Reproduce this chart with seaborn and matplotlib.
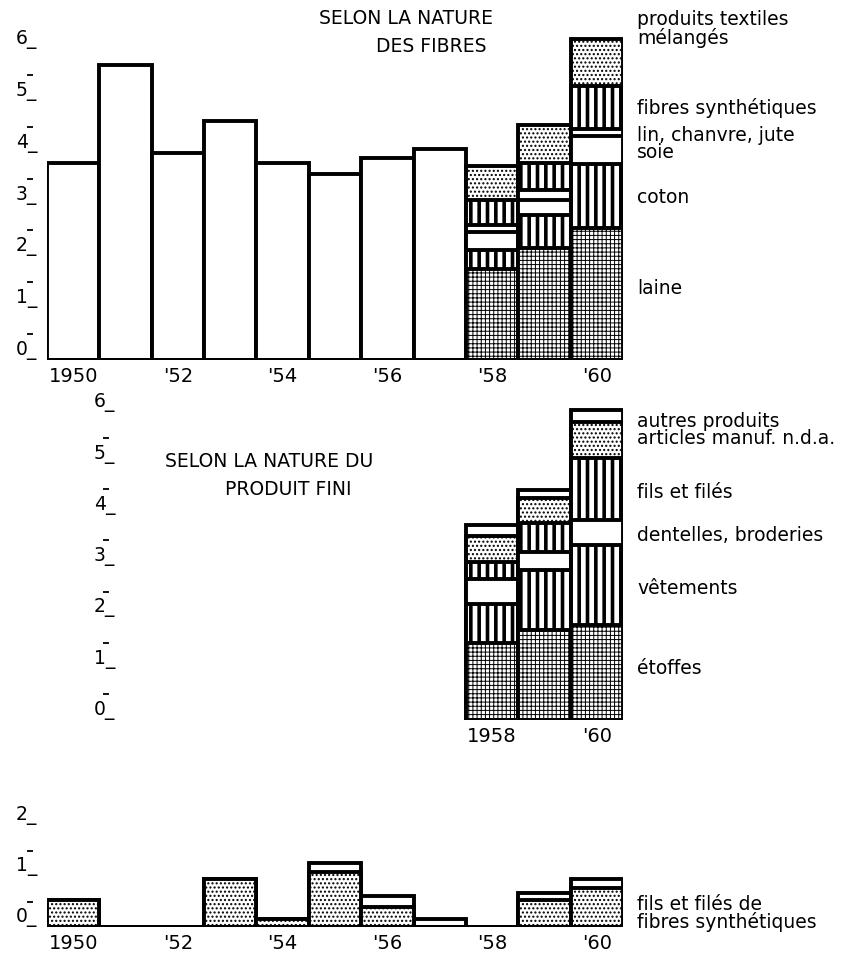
"""
Textile imports chart: by fibre, by finished product, and synthetic yarn
"""

import numpy as np
import matplotlib
matplotlib.use("Agg")
import matplotlib.pyplot as plt
import matplotlib.transforms as mtransforms
import seaborn as sns

# ---- top panel: selon la nature des fibres ----
years_early = [1950, 1951, 1952, 1953, 1954, 1955, 1956, 1957]
totals_early = [3.81, 5.70, 4.00, 4.62, 3.80, 3.58, 3.90, 4.08]

years_detail = [1958, 1959, 1960]
laine = [1.75, 2.16, 2.54]
coton = [0.37, 0.64, 1.25]
soie = [0.35, 0.29, 0.54]
lin = [0.13, 0.19, 0.13]
fibres_synth = [0.48, 0.52, 0.83]
melanges = [0.67, 0.73, 0.91]

# ---- middle panel: selon la nature du produit fini ----
etoffes = [1.50, 1.75, 1.85]
vetements = [0.76, 1.17, 1.56]
dentelles = [0.49, 0.35, 0.49]
fils = [0.33, 0.57, 1.21]
articles = [0.51, 0.49, 0.70]
autres = [0.21, 0.16, 0.23]

# ---- bottom panel: fils et filés de fibres synthétiques ----
years_all = [1950, 1951, 1952, 1953, 1954, 1955, 1956, 1957, 1958, 1959, 1960]
synth_fils = [0.53, 0, 0, 0.94, 0.16, 1.08, 0.39, 0, 0, 0.53, 0.76]
synth_autres = [0, 0, 0, 0, 0, 0.17, 0.22, 0.16, 0, 0.14, 0.18]

year_ticks = [1950, 1952, 1954, 1956, 1958, 1960]
year_labels = ["1950", "'52", "'54", "'56", "'58", "'60"]

# hatch styles: (pattern, hatch linewidth)
DOTS = ("....", 1.0)
CROSS = ("++++", 0.7)
STRIPES = ("||", 2.6)
PLAIN = ("", 1.0)

EDGE_LW = 2.8
W, H = 852, 960


def px_axes(fig, left, right, y0, top):
    """axes from pixel coordinates of the reference"""
    return fig.add_axes([left / W, (H - y0) / H, (right - left) / W, (y0 - top) / H])


def draw_layer(ax, x, heights, style):
    pattern, hlw = style
    with plt.rc_context({"hatch.linewidth": hlw}):
        sns.barplot(x=x, y=heights, native_scale=True, width=1, color="white",
                    saturation=1, edgecolor="black", linewidth=EDGE_LW,
                    hatch=pattern, errorbar=None, ax=ax)
        for p in ax.containers[-1]:
            if hasattr(p, "set_hatch_linewidth"):
                p.set_hatch_linewidth(hlw)


def draw_stack(ax, x, layers):
    """layers bottom -> top as (values, style); draw tallest first"""
    cum = np.cumsum([vals for vals, _ in layers], axis=0)
    for i in range(len(layers) - 1, -1, -1):
        draw_layer(ax, x, cum[i], layers[i][1])


def style_axis(ax, ymax, major, xlim, xticks, xlabels, ypad, dash_x):
    ax.set_xlim(*xlim)
    ax.set_ylim(0, ymax)
    for s in ax.spines.values():
        s.set_visible(False)
    ax.set_yticks(major, labels=[f"{v}_" for v in major])
    ax.set_xticks(xticks, labels=xlabels)
    ax.tick_params(axis="both", which="both", length=0)
    ax.tick_params(axis="y", which="major", pad=ypad, labelsize=13.5)
    ax.tick_params(axis="x", pad=5, labelsize=14)
    for lab in ax.get_yticklabels():
        lab.set_verticalalignment("bottom")
    # short dashes at the half units, left of the axis
    halves = [v + 0.5 for v in major[:-1]]
    trans = mtransforms.blended_transform_factory(ax.transAxes, ax.transData)
    ax.plot([dash_x] * len(halves), halves, linestyle="none", marker="_",
            markersize=4, markeredgewidth=1.3, color="black",
            transform=trans, clip_on=False)
    ax.set_xlabel("")
    ax.set_ylabel("")


def main():
    sns.set_theme(style="white")
    plt.rcParams["font.family"] = ["DejaVu Sans"]
    plt.rcParams["text.color"] = "black"
    plt.rcParams["xtick.color"] = "black"
    plt.rcParams["ytick.color"] = "black"
    fig = plt.figure(figsize=(8.52, 9.6), dpi=100)

    txt = dict(ha="left", va="center", fontsize=13.5, linespacing=0.9, clip_on=False)
    lx = 1960.77

    # top panel
    ax1 = px_axes(fig, 47, 623, 360, 360 - 6.4 * 51.83)
    draw_layer(ax1, years_early, totals_early, PLAIN)
    draw_stack(ax1, years_detail, [(laine, CROSS), (coton, STRIPES), (soie, PLAIN),
                                   (lin, PLAIN), (fibres_synth, STRIPES),
                                   (melanges, DOTS)])
    ax1.axhline(0, color="black", lw=EDGE_LW)
    style_axis(ax1, 6.4, list(range(7)), (1949.5, 1960.5), year_ticks, year_labels,
               7, -17 / 576)
    ax1.text(lx, 6.39, "produits textiles\nmélangés", **txt)
    ax1.text(lx, 4.86, "fibres synthétiques", **txt)
    ax1.text(lx, 4.17, "lin, chanvre, jute\nsoie", **txt)
    ax1.text(lx, 3.14, "coton", **txt)
    ax1.text(lx, 1.37, "laine", **txt)

    # middle panel
    ax2 = px_axes(fig, 125, 623, 720, 720 - 6.4 * 51.3)
    draw_stack(ax2, years_detail, [(etoffes, CROSS), (vetements, STRIPES),
                                   (dentelles, PLAIN), (fils, STRIPES),
                                   (articles, DOTS), (autres, PLAIN)])
    style_axis(ax2, 6.4, list(range(7)), (1950.99, 1960.5), [1958, 1960],
               ["1958", "'60"], 7, -19 / 498)
    ax2.text(lx, 5.65, "autres produits\narticles manuf. n.d.a.", **txt)
    ax2.text(lx, 4.44, "fils et filés", **txt)
    ax2.text(lx, 3.59, "dentelles, broderies", **txt)
    ax2.text(lx, 2.57, "vêtements", **txt)
    ax2.text(lx, 1.01, "étoffes", **txt)

    # bottom panel, same time scale as the top one
    ax3 = px_axes(fig, 47, 623, 927, 927 - 2.2 * 51)
    draw_stack(ax3, years_all, [(synth_fils, DOTS), (synth_autres, PLAIN)])
    ax3.axhline(0, color="black", lw=EDGE_LW)
    style_axis(ax3, 2.2, [0, 1, 2], (1949.5, 1960.5), year_ticks, year_labels,
               7, -17 / 576)
    ax3.text(lx, 0.27, "fils et filés de\nfibres synthétiques", **txt)

    # panel titles
    ttl = dict(fontsize=13.5, va="center")
    fig.text(493 / W, 1 - 19 / H, "SELON LA NATURE", ha="right", **ttl)
    fig.text(487 / W, 1 - 47 / H, "DES FIBRES", ha="right", **ttl)
    fig.text(165 / W, 1 - 462 / H, "SELON LA NATURE DU", ha="left", **ttl)
    fig.text(225 / W, 1 - 490 / H, "PRODUIT FINI", ha="left", **ttl)

    fig.savefig("out.png", dpi=100)
    plt.close(fig)
    print("Saved to: out.png")


if __name__ == "__main__":
    main()
